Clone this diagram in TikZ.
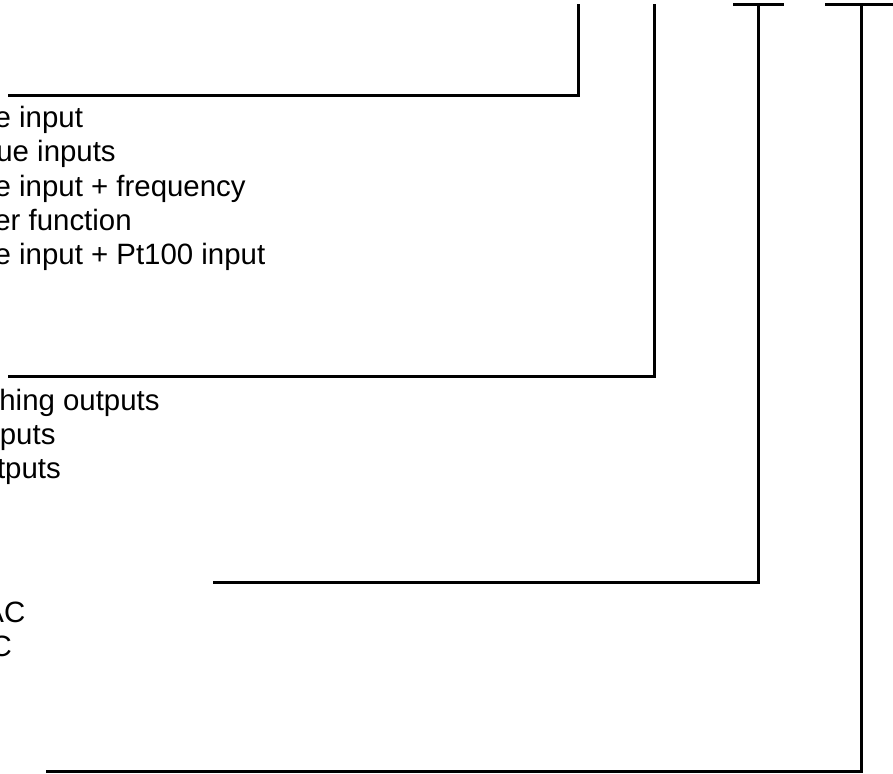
\documentclass[tikz,border=0pt]{standalone}
\usepackage{fontspec}
\setmainfont{Liberation Sans}
\begin{document}
\begin{tikzpicture}[x=0.5pt,y=-0.5pt,
  lead/.style={line width=1.5pt},
  txt/.style={anchor=base west,inner sep=0pt,font=\fontsize{14.7}{17}\selectfont}]
\path[use as bounding box] (0,0) rectangle (893,773);
\clip (0,0) rectangle (893,773);
\coordinate (topA) at (578,4); \coordinate (endA) at (8,95);
\coordinate (topB) at (654,4); \coordinate (endB) at (8,376);
\coordinate (topC) at (758,4); \coordinate (endC) at (213,582);
\coordinate (topD) at (861,4); \coordinate (endD) at (46,771);
\draw[lead] (topA) |- (endA);
\draw[lead] (topB) |- (endB);
\draw[lead] (733,4) -- (784,4); \draw[lead] (topC) |- (endC);
\draw[lead] (825,4) -- (895,4); \draw[lead] (topD) |- (endD);
\node[txt] (inA) at (-5.7,127) {e input};
\node[txt] (inB) at (-4,161.5) {ue inputs};
\node[txt] (inC) at (-5.7,196) {e input + frequency};
\node[txt] (inD) at (-6,230) {er function};
\node[txt] (inE) at (-5.7,264) {e input + Pt100 input};
\node[txt] (outA) at (-1,410) {hing outputs};
\node[txt] (outB) at (-0.5,444) {puts};
\node[txt] (outC) at (-3.4,478) {tputs};
\node[txt] (supA) at (-16,622) {AC};
\node[txt] (supB) at (-9.7,656) {C};
\end{tikzpicture}
\end{document}
